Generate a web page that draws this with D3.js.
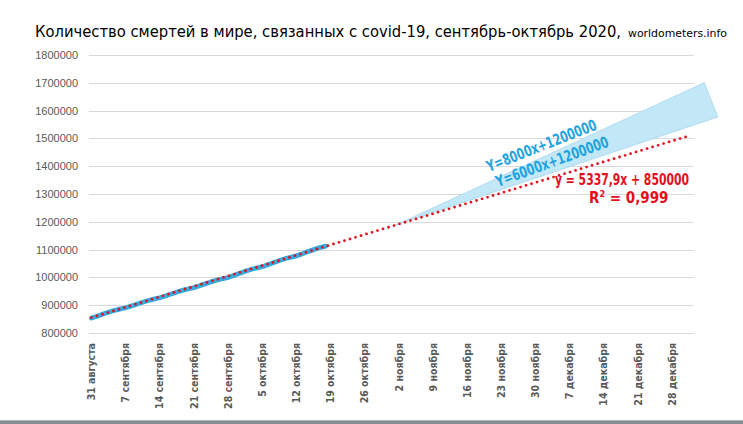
<!DOCTYPE html>
<html lang="ru">
<head>
<meta charset="utf-8">
<script src="https://d3js.org/d3.v7.min.js"></script>
<style>
  body { margin: 0; background: #fff; }
  svg { display: block; }
</style>
</head>
<body>
<script>
// --- data ---
var dayLabels = ["31 августа", "7 сентября", "14 сентября", "21 сентября", "28 сентября",
  "5 октября", "12 октября", "19 октября", "26 октября", "2 ноября", "9 ноября",
  "16 ноября", "23 ноября", "30 ноября", "7 декабря", "14 декабря", "21 декабря", "28 декабря"];
var nDays = 124; // 31 Aug .. 1 Jan, one category per day
var yTicks = [800000, 900000, 1000000, 1100000, 1200000, 1300000, 1400000, 1500000, 1600000, 1700000, 1800000];

// cumulative deaths, 31 Aug .. 18 Oct 2020
var deaths = [854000, 859500, 865800, 871600, 877300, 882500, 886600,
  890700, 895900, 901800, 907600, 913300, 918500, 922600,
  926900, 932300, 938400, 944200, 949900, 955100, 959200,
  963300, 968800, 974900, 980700, 986500, 991600, 995700,
  999700, 1005600, 1012400, 1018700, 1024800, 1030200, 1034300,
  1038500, 1044700, 1051000, 1057200, 1063300, 1068900, 1073100,
  1077400, 1083600, 1090100, 1096300, 1102600, 1108200, 1112400];

// linear trend y = 5337.9x + 850000, x = 1 on 31 Aug, drawn up to day 122.5
var trendSlope = 5337.9, trendIntercept = 850000, trendEndDay = 122.5;

// forecast wedge (Y=8000x+1200000 / Y=6000x+1200000)
var wedgeDays = [62.3, 125.6, 128.4];
var wedgeValues = [1188000, 1700500, 1577000];

var width = 743, height = 424;
var margin = { left: 89, right: 49, top: 55, bottom: 91 };

var svg = d3.select("body").append("svg")
  .attr("width", width)
  .attr("height", height);

var x = d3.scaleLinear()
  .domain([-0.5, nDays - 0.5])
  .range([margin.left, width - margin.right]);

var y = d3.scaleLinear()
  .domain([800000, 1800000])
  .range([height - margin.bottom, margin.top]);

var condensed = "'Liberation Sans Narrow', 'DejaVu Sans Condensed', 'Liberation Sans', sans-serif";

// title
svg.append("text")
  .attr("x", 35).attr("y", 37)
  .attr("textLength", 586).attr("lengthAdjust", "spacingAndGlyphs")
  .style("font-family", condensed)
  .style("font-size", "16px")
  .style("fill", "#000")
  .text("Количество смертей в мире, связанных с covid-19,  сентябрь-октябрь 2020,");
svg.append("text")
  .attr("x", 628).attr("y", 37)
  .attr("textLength", 99).attr("lengthAdjust", "spacingAndGlyphs")
  .style("font-family", condensed)
  .style("font-size", "11px")
  .style("fill", "#000")
  .text("worldometers.info");

// gridlines
svg.append("g")
  .selectAll("line")
  .data(yTicks)
  .join("line")
  .attr("x1", margin.left).attr("x2", width - margin.right)
  .attr("y1", function(d) { return Math.round(y(d)) + 0.5; })
  .attr("y2", function(d) { return Math.round(y(d)) + 0.5; })
  .style("stroke", "#d9d9d9")
  .style("stroke-width", 1);

// y labels
var yAxis = d3.axisLeft(y).tickValues(yTicks).tickSize(0).tickPadding(11).tickFormat(d3.format("d"));
var gy = svg.append("g")
  .attr("transform", "translate(" + margin.left + ",0)")
  .call(yAxis);
gy.select(".domain").remove();
gy.selectAll("text")
  .style("font-family", "'Liberation Sans', sans-serif")
  .style("font-size", "11px")
  .style("fill", "#595959");

// x labels, one per week
var gx = svg.append("g");
gx.selectAll("text")
  .data(dayLabels)
  .join("text")
  .attr("transform", function(d, i) {
    return "translate(" + x(i * 7) + "," + 343 + ") rotate(-90)";
  })
  .attr("dy", "0.35em")
  .attr("text-anchor", "end")
  .style("font-family", condensed)
  .style("font-size", "10.5px")
  .style("font-weight", "bold")
  .style("fill", "#595959")
  .text(function(d) { return d; });

// forecast wedge
svg.append("polygon")
  .attr("points", wedgeDays.map(function(d, i) { return x(d) + "," + y(wedgeValues[i]); }).join(" "))
  .style("fill", "#c2e7f7")
  .style("stroke", "#a6d6ee")
  .style("stroke-width", 0.8);

// data line
var line = d3.line()
  .x(function(d, i) { return x(i); })
  .y(function(d) { return y(d); });

svg.append("path")
  .datum(deaths)
  .attr("d", line)
  .style("fill", "none")
  .style("stroke", "#36a9de")
  .style("stroke-width", 4.8)
  .style("stroke-linejoin", "round")
  .style("stroke-linecap", "round");

// trend line (dotted)
svg.append("path")
  .datum([0, trendEndDay])
  .attr("d", d3.line()
    .x(function(d) { return x(d); })
    .y(function(d) { return y(trendSlope * (d + 1) + trendIntercept); }))
  .style("fill", "none")
  .style("stroke", "#e3101c")
  .style("stroke-width", 2.8)
  .style("stroke-dasharray", "0 5.75")
  .style("stroke-linecap", "round");

// annotations
function note(txt, px, py, angle, len, size, color, weight) {
  svg.append("text")
    .attr("transform", "translate(" + px + "," + py + ") rotate(" + angle + ")")
    .attr("textLength", len).attr("lengthAdjust", "spacingAndGlyphs")
    .style("font-family", condensed)
    .style("font-size", size)
    .style("font-weight", weight)
    .style("fill", color)
    .text(txt);
}
note("Y=8000x+1200000", 489, 172, -21.5, 117, "15.5px", "#1ea3de", "600");
note("Y=6000x+1200000", 498, 187, -20, 119, "15.5px", "#1ea3de", "600");

svg.append("text")
  .attr("x", 555).attr("y", 185)
  .attr("textLength", 134).attr("lengthAdjust", "spacingAndGlyphs")
  .style("font-family", condensed)
  .style("font-size", "15px")
  .style("font-weight", "bold")
  .style("fill", "#e3101c")
  .text("y = 5337,9x + 850000");

var r2 = svg.append("text")
  .attr("x", 589).attr("y", 203)
  .style("font-family", condensed)
  .style("font-size", "15px")
  .style("font-weight", "bold")
  .style("fill", "#e3101c");
r2.append("tspan").text("R");
r2.append("tspan").attr("dy", -6).style("font-size", "9px").text("2");
r2.append("tspan").attr("dy", 6).text(" = 0,999");

// bottom frame bar
svg.append("rect")
  .attr("x", 0).attr("y", 420).attr("width", width).attr("height", 4)
  .style("fill", "#8a8d90");
svg.append("line")
  .attr("x1", 0).attr("x2", width).attr("y1", 420.5).attr("y2", 420.5)
  .style("stroke", "#b4b6b8");
</script>
</body>
</html>
